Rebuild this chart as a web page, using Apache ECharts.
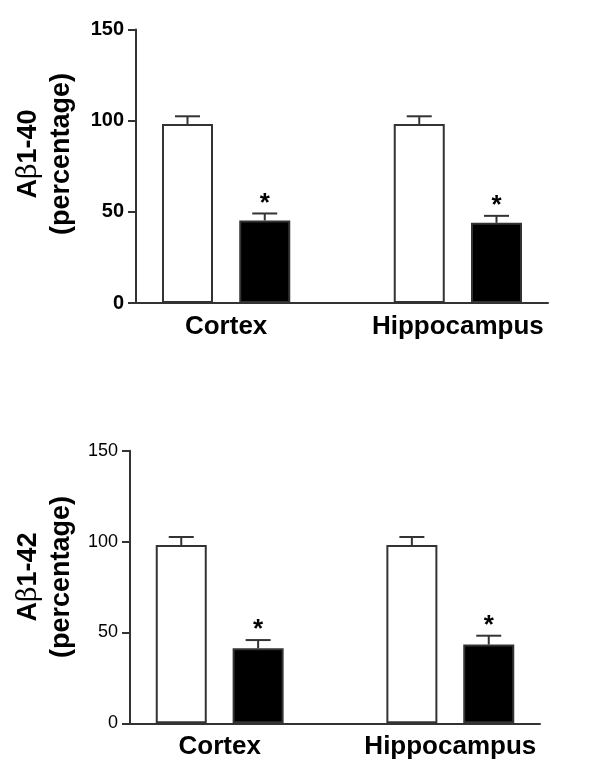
<!DOCTYPE html>
<html>
<head>
<meta charset="utf-8">
<script src="https://cdn.jsdelivr.net/npm/echarts@6/dist/echarts.min.js"></script>
<style>
html,body{margin:0;padding:0;background:#fff;}
#chart{width:600px;height:776px;}
</style>
</head>
<body>
<div id="chart"></div>
<script>
// ---- data ----
const categories = ['Cortex', 'Hippocampus'];
const yTickValues = [0, 50, 100, 150];

const ab40Control = [98.2, 98.2];
const ab40ControlErr = [4.2, 4.2];
const ab40Treated = [45.3, 44.0];
const ab40TreatedErr = [3.8, 3.8];

const ab42Control = [98.1, 98.1];
const ab42ControlErr = [4.4, 4.4];
const ab42Treated = [41.3, 43.3];
const ab42TreatedErr = [4.5, 4.9];

const treatedSignificant = [true, true];

// ---- layout helpers (slot positions on the x axis) ----
const groupStart = [0, 3];          // control bar slot of each group
const controlX = groupStart.map(s => s);
const treatedX = groupStart.map(s => s + 1);
const labelX = groupStart.map(s => s + 0.5);

const FONT = '"Liberation Sans", Arial, Helvetica, sans-serif';
const LINE = '#333';

function barData(xs, vals) { return xs.map((x, i) => [x, vals[i]]); }
function errData(xs, vals, errs, stars) {
  return xs.map((x, i) => [x, vals[i], errs[i], stars ? (stars[i] ? 1 : 0) : 0]);
}

function renderErr(params, api) {
  const x = api.value(0), m = api.value(1), e = api.value(2), star = api.value(3);
  const p0 = api.coord([x, m]);
  const p1 = api.coord([x, m + e]);
  const half = 12.5;
  const children = [
    {type: 'line', shape: {x1: p0[0], y1: p0[1], x2: p1[0], y2: p1[1]}, style: {stroke: LINE, lineWidth: 2}},
    {type: 'line', shape: {x1: p1[0] - half, y1: p1[1], x2: p1[0] + half, y2: p1[1]}, style: {stroke: LINE, lineWidth: 2}}
  ];
  if (star) {
    children.push({type: 'text', x: p1[0], y: p1[1] + 3,
      style: {text: '*', font: 'bold 26px ' + FONT, fill: '#000', align: 'center', verticalAlign: 'bottom'}});
  }
  return {type: 'group', children};
}

function xAxisCfg(gridIndex) {
  return {
    type: 'value', gridIndex, min: -2/3, max: 14/3,
    splitLine: {show: false},
    axisLine: {show: true, onZero: false, lineStyle: {color: LINE, width: 2}},
    axisTick: {show: false},
    axisLabel: {
      show: true, customValues: labelX, margin: 11,
      formatter: v => { const i = labelX.findIndex(l => Math.abs(l - v) < 1e-6); return i >= 0 ? categories[i] : ''; },
      fontFamily: FONT, fontSize: 26, fontWeight: 'bold', color: '#000'
    }
  };
}
function yAxisCfg(gridIndex, bold) {
  return {
    type: 'value', gridIndex, min: yTickValues[0], max: yTickValues[yTickValues.length - 1], interval: 50,
    splitLine: {show: false},
    axisLine: {show: true, onZero: false, lineStyle: {color: LINE, width: 2}},
    axisTick: {show: true, length: 8, lineStyle: {color: LINE, width: 2}},
    axisLabel: {margin: 12, fontFamily: FONT, fontSize: bold ? 20 : 18, fontWeight: bold ? 'bold' : 'normal', color: '#000'}
  };
}

function barSeries(gridIdx, xs, vals, fill) {
  return {
    type: 'bar', xAxisIndex: gridIdx, yAxisIndex: gridIdx, barWidth: 51, barGap: '-100%',
    data: barData(xs, vals),
    itemStyle: {color: fill, borderColor: LINE, borderWidth: 2},
    emphasis: {disabled: true}, silent: true, z: 2
  };
}
function errSeries(gridIdx, xs, vals, errs, stars) {
  return {
    type: 'custom', xAxisIndex: gridIdx, yAxisIndex: gridIdx, clip: false, silent: true, z: 3,
    renderItem: renderErr, data: errData(xs, vals, errs, stars)
  };
}

function yTitle(x, y, label) {
  return {
    type: 'text', x, y, rotation: Math.PI / 2,
    style: {
      text: '{b|A}{g|β}{b|' + label + '}\n{b|(percentage)}',
      align: 'center', verticalAlign: 'middle',
      rich: {
        b: {font: 'bold 27px ' + FONT, fill: '#000', lineHeight: 33},
        g: {font: '27px "DejaVu Serif", "Liberation Serif", serif', fill: '#000', lineHeight: 33}
      }
    }
  };
}

const option = {
  animation: false,
  backgroundColor: '#fff',
  grid: [
    {left: 136, top: 29.5, width: 412, height: 273.5},
    {left: 130, top: 450.7, width: 410, height: 272.6}
  ],
  xAxis: [xAxisCfg(0), xAxisCfg(1)],
  yAxis: [yAxisCfg(0, true), yAxisCfg(1, false)],
  series: [
    barSeries(0, controlX, ab40Control, '#fff'),
    barSeries(0, treatedX, ab40Treated, '#000'),
    errSeries(0, controlX, ab40Control, ab40ControlErr, null),
    errSeries(0, treatedX, ab40Treated, ab40TreatedErr, treatedSignificant),
    barSeries(1, controlX, ab42Control, '#fff'),
    barSeries(1, treatedX, ab42Treated, '#000'),
    errSeries(1, controlX, ab42Control, ab42ControlErr, null),
    errSeries(1, treatedX, ab42Treated, ab42TreatedErr, treatedSignificant)
  ],
  graphic: [
    yTitle(45, 154, '1-40'),
    yTitle(45, 577, '1-42')
  ]
};

const chart = echarts.init(document.getElementById('chart'), null, {renderer: 'canvas'});
chart.setOption(option);
</script>
</body>
</html>
